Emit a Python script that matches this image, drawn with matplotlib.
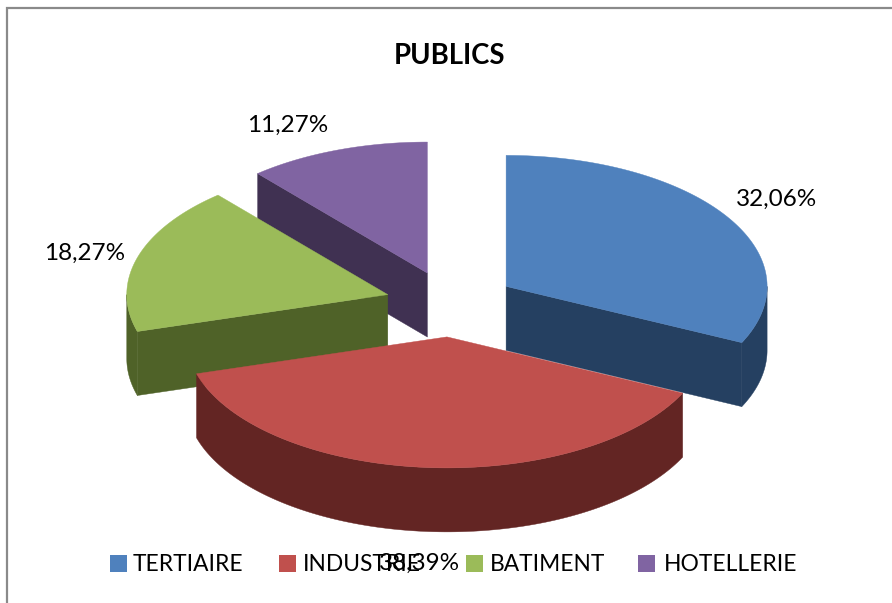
import numpy as np
import matplotlib
matplotlib.use("Agg")
import matplotlib.pyplot as plt
from matplotlib.patches import Polygon, Rectangle

categories = ["TERTIAIRE", "INDUSTRIE", "BATIMENT", "HOTELLERIE"]
values = [32.06, 38.39, 18.27, 11.27]
labels = ["32,06%", "38,39%", "18,27%", "11,27%"]
title = "PUBLICS"
top_colors = ["#4F81BD", "#C0504D", "#9BBB59", "#8064A2"]
side_colors = ["#254061", "#632523", "#4F6228", "#403152"]
label_pos = [(777, 199), (420, 563), (85, 253), (288, 125)]
legend_box_x = [110, 279, 466, 638]
legend_text_x = [133, 303, 490, 664]

W, H = 892, 603
CX, CY = 452, 304
RX, RY = 261, 131
DEPTH = 64
EX = [64, 64, 67, 71]
EY = 33

plt.rcParams["font.family"] = ["Lato", "DejaVu Sans"]
fig = plt.figure(figsize=(W / 100, H / 100), dpi=100, facecolor="white")
ax = fig.add_axes([0, 0, 1, 1])
ax.set_xlim(0, W)
ax.set_ylim(H, 0)
ax.axis("off")

fractions = np.array(values) / sum(values) * 2 * np.pi
ends = np.cumsum(fractions)
starts = ends - fractions
apexes = []
for s, e, ex in zip(starts, ends, EX):
    m = (s + e) / 2
    apexes.append((CX + ex * np.sin(m), CY - EY * np.cos(m)))


def rim(apex, a0, a1, n=120):
    t = np.linspace(a0, a1, n)
    return np.column_stack((apex[0] + RX * np.sin(t), apex[1] - RY * np.cos(t)))


def wall(i, a0, a1, z):
    pts = rim(apexes[i], a0, a1)
    poly = np.vstack((pts, (pts + [0, DEPTH])[::-1]))
    ax.add_patch(Polygon(poly, closed=True, fc=side_colors[i], ec=side_colors[i], lw=0.3, zorder=z))


def cut(i, a, z):
    p = rim(apexes[i], a, a, 1)[0]
    q = np.array(apexes[i])
    poly = np.array([q, p, p + [0, DEPTH], q + [0, DEPTH]])
    ax.add_patch(Polygon(poly, closed=True, fc=side_colors[i], ec=side_colors[i], lw=0.3, zorder=z))


def top(i, z):
    pts = np.vstack(([apexes[i]], rim(apexes[i], starts[i], ends[i])))
    ax.add_patch(Polygon(pts, closed=True, fc=top_colors[i], ec=top_colors[i], lw=0.3, zorder=z))


# back to front: purple, green, blue, red
cut(3, starts[3], 1); top(3, 2)
cut(2, starts[2], 3); wall(2, starts[2], 1.5 * np.pi, 3); top(2, 4)
cut(0, ends[0], 5); wall(0, 0.5 * np.pi, ends[0], 5); top(0, 6)
wall(1, starts[1], ends[1], 7); top(1, 8)

# frame: top and left edges only
ax.plot([W, 6.5, 6.5], [7.5, 7.5, H], color="#8A8A8A", lw=1.6, zorder=0, solid_joinstyle="miter")

ax.text(450, 55.5, title, fontsize=19.8, fontweight="bold", ha="center", va="center", color="black", zorder=10)
for (x, y), t in zip(label_pos, labels):
    ax.text(x, y, t, fontsize=17.5, ha="center", va="center", color="black", zorder=10)
for bx, tx, c, name in zip(legend_box_x, legend_text_x, top_colors, categories):
    ax.add_patch(Rectangle((bx, 555), 17, 17, fc=c, ec="none", zorder=9))
    ax.text(tx, 564.5, name, fontsize=16.4, ha="left", va="center", color="black", zorder=10)

fig.savefig("out.png", dpi=100)
